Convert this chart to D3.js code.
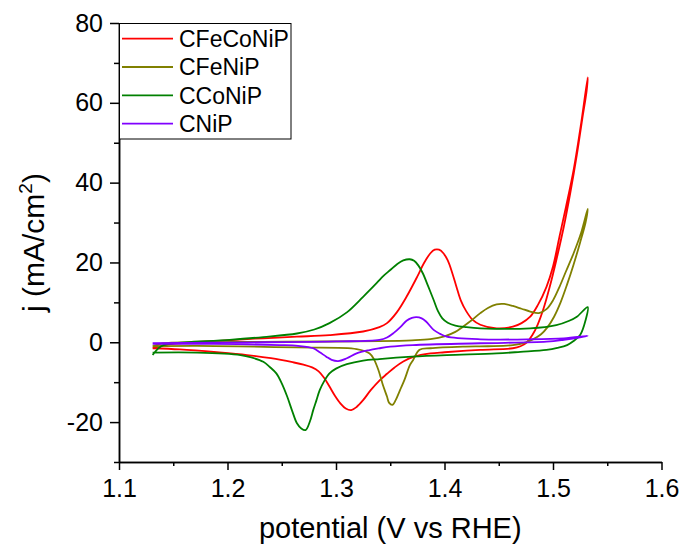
<!DOCTYPE html>
<html>
<head>
<meta charset="utf-8">
<script src="https://cdn.jsdelivr.net/npm/d3@7"></script>
<style>
  html, body { margin: 0; padding: 0; background: #fff; }
  svg { display: block; font-family: "Liberation Sans", Arial, sans-serif; }
</style>
</head>
<body>
<svg id="chart" width="686" height="551"></svg>
<script>
// ---------------- data ----------------
const seriesNames = ["CFeCoNiP", "CFeNiP", "CCoNiP", "CNiP"];
const seriesColors = ["#ff0000", "#808000", "#008000", "#8000ff"];

// CFeCoNiP : potential (V vs RHE) and current density (mA/cm2), anodic then cathodic
const cfeconipV = [1.131,1.145,1.156,1.200,1.233,1.264,1.294,1.325,1.340,1.347,1.356,1.365,1.375,1.381,1.387,1.391,1.395,1.399,1.403,1.407,1.411,1.415,1.420,1.426,1.433,1.448,1.463,1.471,1.479,1.486,1.494,1.500,1.506,1.512,1.519,1.526,1.532,
  1.531,1.527,1.522,1.516,1.510,1.503,1.497,1.491,1.486,1.481,1.476,1.470,1.463,1.433,1.400,1.387,1.372,1.362,1.354,1.347,1.340,1.332,1.325,1.319,1.314,1.309,1.304,1.299,1.294,1.289,1.284,1.278,1.270,1.260,1.240,1.218,1.190,1.156,1.131];
const cfeconipJ = [-1.5,-0.6,-0.25,0.5,1.0,1.4,1.8,2.7,3.8,4.8,7.5,11.4,16.5,19.8,22.3,23.2,23.2,22.3,20.5,17.5,13.9,10.5,7.8,5.6,4.4,3.5,3.9,4.8,6.4,9.3,13.9,19.0,26.5,34.0,43.2,55.0,66.4,
  63.0,56.0,47.0,37.5,29.0,20.5,13.9,8.2,4.5,1.8,0.0,-1.0,-1.5,-1.9,-2.5,-2.8,-3.6,-4.8,-6.3,-7.9,-9.6,-12.0,-14.5,-16.2,-17.0,-16.6,-15.3,-13.4,-11.1,-8.9,-7.3,-6.3,-5.6,-5.0,-4.0,-3.2,-2.5,-1.8,-1.5];

// CFeNiP
const cfenipV = [1.131,1.140,1.172,1.233,1.294,1.340,1.370,1.387,1.400,1.410,1.417,1.425,1.433,1.440,1.448,1.455,1.463,1.471,1.479,1.487,1.494,1.500,1.506,1.512,1.519,1.526,1.532,
  1.530,1.525,1.519,1.513,1.507,1.501,1.495,1.489,1.482,1.475,1.463,1.440,1.417,1.387,1.377,1.371,1.368,1.363,1.359,1.355,1.352,1.349,1.347,1.343,1.339,1.335,1.331,1.319,1.264,1.172,1.131];
const cfenipJ = [-1.0,-0.3,0.0,0.1,0.2,0.3,0.5,0.8,1.5,2.6,3.9,5.5,7.3,8.6,9.5,9.6,9.1,8.4,7.7,7.3,8.3,10.5,13.9,17.8,22.3,27.5,33.4,
  30.0,25.0,19.5,14.5,10.0,6.4,3.8,2.0,0.8,0.0,-0.7,-1.0,-1.1,-1.5,-1.9,-4.5,-5.8,-9.5,-12.0,-14.5,-15.7,-15.2,-13.6,-10.5,-6.9,-4.3,-2.8,-1.7,-1.3,-0.9,-1.0];

// CCoNiP
const cconipV = [1.131,1.136,1.141,1.150,1.202,1.233,1.264,1.280,1.294,1.310,1.325,1.332,1.338,1.344,1.350,1.356,1.362,1.368,1.372,1.376,1.380,1.385,1.390,1.394,1.398,1.403,1.410,1.420,1.433,1.479,1.503,1.515,1.522,1.532,
  1.530,1.525,1.519,1.513,1.504,1.494,1.470,1.448,1.402,1.370,1.340,1.325,1.310,1.300,1.294,1.289,1.285,1.282,1.279,1.276,1.272,1.268,1.264,1.260,1.255,1.250,1.245,1.239,1.233,1.222,1.212,1.172,1.131];
const cconipJ = [-3.2,-1.6,-0.7,-0.25,0.6,1.3,2.2,3.2,4.8,7.5,11.4,13.3,15.0,16.7,18.1,19.5,20.5,20.8,20.4,19.2,17.3,14.0,10.6,7.8,6.0,4.9,4.2,3.8,3.5,3.5,4.3,5.4,6.4,8.8,
  5.5,1.8,0.3,-0.7,-1.4,-1.9,-2.4,-2.8,-3.2,-3.6,-4.2,-4.6,-5.5,-6.6,-7.8,-9.8,-12.0,-14.5,-17.0,-19.8,-22.0,-21.6,-20.3,-17.5,-13.6,-10.3,-7.8,-6.2,-4.9,-3.8,-3.2,-2.6,-2.6];

// CNiP
const cnipV = [1.131,1.233,1.300,1.340,1.347,1.353,1.360,1.365,1.370,1.374,1.379,1.383,1.390,1.396,1.402,1.433,1.479,1.510,1.532,
  1.525,1.510,1.494,1.433,1.371,1.350,1.340,1.330,1.319,1.310,1.302,1.296,1.291,1.285,1.279,1.265,1.248,1.187,1.131];
const cnipJ = [-0.25,0.0,0.2,0.6,1.2,2.3,4.0,5.4,6.1,6.3,6.0,5.2,3.1,2.1,1.4,0.75,0.75,1.0,1.6,
  1.2,0.6,0.15,-0.25,-0.7,-1.1,-1.5,-2.0,-2.8,-4.0,-4.7,-4.4,-3.6,-2.5,-1.5,-0.9,-0.7,-0.4,-0.4];

const xMajorTicks = [1.1, 1.2, 1.3, 1.4, 1.5, 1.6];
const xMinorTicks = [1.15, 1.25, 1.35, 1.45, 1.55];
const yMajorTicks = [-20, 0, 20, 40, 60, 80];
const yMinorTicks = [-30, -10, 10, 30, 50, 70];

const xTitle = "potential (V vs RHE)";

// ---------------- chart ----------------
const svg = d3.select("#chart");
const x = d3.scaleLinear().domain([1.1, 1.6]).range([119, 661.5]);
const y = d3.scaleLinear().domain([-30, 80]).range([462, 23]);

const seriesData = [
  [cfeconipV, cfeconipJ],
  [cfenipV, cfenipJ],
  [cconipV, cconipJ],
  [cnipV, cnipJ]
].map(([vs, js]) => vs.map((v, i) => [v, js[i]]));

const line = d3.line()
  .x(d => x(d[0]))
  .y(d => y(d[1]))
  .curve(d3.curveCatmullRom.alpha(0.5));

svg.append("g").selectAll("path")
  .data(seriesData)
  .join("path")
  .attr("d", line)
  .attr("fill", "none")
  .attr("stroke", (d, i) => seriesColors[i])
  .attr("stroke-width", 1.8)
  .attr("stroke-linejoin", "round");

// axes
function styleAxis(g) {
  g.selectAll("path.domain").attr("stroke", "#000").attr("stroke-width", 1.5);
  g.selectAll(".tick line").attr("stroke", "#000").attr("stroke-width", 1.5);
  g.selectAll(".tick text").attr("fill", "#000")
    .style("font-family", "'Liberation Sans', Arial, sans-serif").style("font-size", "25px");
}

const xAxis = svg.append("g").attr("transform", "translate(0,462)")
  .call(d3.axisBottom(x).tickValues(xMajorTicks).tickSize(8).tickPadding(9)
    .tickSizeOuter(0).tickFormat(d3.format(".1f")));
styleAxis(xAxis);
const xMinor = svg.append("g").attr("transform", "translate(0,462)")
  .call(d3.axisBottom(x).tickValues(xMinorTicks).tickSize(4).tickSizeOuter(0).tickFormat(""));
styleAxis(xMinor);

const yAxis = svg.append("g").attr("transform", "translate(119,0)")
  .call(d3.axisLeft(y).tickValues(yMajorTicks).tickSize(9).tickPadding(7).tickSizeOuter(0)
    .tickFormat(d => String(d)));
styleAxis(yAxis);
const yMinor = svg.append("g").attr("transform", "translate(119,0)")
  .call(d3.axisLeft(y).tickValues(yMinorTicks).tickSize(5).tickSizeOuter(0).tickFormat(""));
styleAxis(yMinor);

// axis titles
svg.append("text")
  .attr("x", (x(1.1) + x(1.6)) / 2)
  .attr("y", 538)
  .attr("text-anchor", "middle")
  .style("font-size", "29px")
  .text(xTitle);

const yt = svg.append("text")
  .attr("transform", `translate(44,${(y(-30) + y(80)) / 2}) rotate(-90)`)
  .attr("text-anchor", "middle")
  .style("font-size", "30px");
yt.append("tspan").text("j (mA/cm");
yt.append("tspan").attr("dy", -12).style("font-size", "19px").text("2");
yt.append("tspan").attr("dy", 12).text(")");

// legend
const legend = svg.append("g");
legend.append("rect")
  .attr("x", 119.5).attr("y", 23.5).attr("width", 171.5).attr("height", 115.5)
  .attr("fill", "#fff").attr("stroke", "#000").attr("stroke-width", 1);
const rowY = [38.7, 67, 95.3, 123.7];
seriesNames.forEach((name, i) => {
  legend.append("line")
    .attr("x1", 122).attr("x2", 173).attr("y1", rowY[i]).attr("y2", rowY[i])
    .attr("stroke", seriesColors[i]).attr("stroke-width", 1.8);
  legend.append("text")
    .attr("x", 179).attr("y", rowY[i] + 8.3)
    .style("font-size", "23px")
    .text(name);
});
</script>
</body>
</html>
